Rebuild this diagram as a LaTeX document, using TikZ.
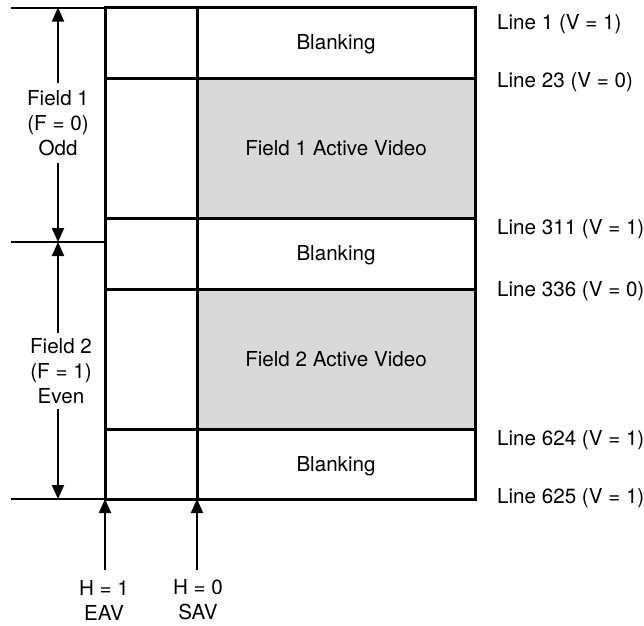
\documentclass[tikz,border=0pt]{standalone}
\usepackage{fontspec}
\setmainfont{TeX Gyre Heros}
\usetikzlibrary{arrows.meta}
\definecolor{actgray}{RGB}{217,217,217}
\begin{document}
\begin{tikzpicture}[x=1pt,y=-1pt,
  lbl/.style={font=\fontsize{20.6}{25}\selectfont, inner sep=0pt, align=center},
  boxline/.style={line width=3pt},
  tick/.style={line width=2pt},
  arr/.style={line width=2pt,-{Triangle[length=14pt,width=12pt]}},
  side/.style={lbl, inner xsep=0pt, inner ysep=7pt}]
\useasboundingbox (0,0) rectangle (644,625);
% gray active regions
\fill[actgray] (197,78) rectangle (475,218);
\fill[actgray] (197,289) rectangle (475,429);
% coordinates
\coordinate (tl) at (105,7.5);
\coordinate (tr) at (475,7.5);
\coordinate (bl) at (105,499);
\coordinate (br) at (475,499);
\coordinate (vt) at (197,7.5);
\coordinate (vb) at (197,499);
\coordinate (l23) at (105,78);   \coordinate (r23) at (475,78);
\coordinate (l311) at (105,218); \coordinate (r311) at (475,218);
\coordinate (l336) at (105,289); \coordinate (r336) at (475,289);
\coordinate (l624) at (105,429); \coordinate (r624) at (475,429);
\coordinate (t0) at (11,7.5);
\coordinate (m0) at (11,242);  \coordinate (m1) at (105,242);
\coordinate (b0) at (11,499);
\coordinate (f1top) at (58,7.5);
\coordinate (f1bot) at (58,242);
\coordinate (f2top) at (58,242);
\coordinate (f2bot) at (58,499);
% frame
\draw[boxline] (tl) rectangle (br);
\draw[boxline] (vt) -- (vb);
\draw[boxline] (l23) -- (r23);
\draw[boxline] (l311) -- (r311);
\draw[boxline] (l336) -- (r336);
\draw[boxline] (l624) -- (r624);
% left ticks
\draw[tick] (t0) -- (tl);
\draw[tick] (m0) -- (m1);
\draw[tick] (b0) -- (bl);
% region labels
\node[lbl, anchor=base] (bk1) at (336,49) {Blanking};
\node[lbl, anchor=base] (av1) at (336,155) {Field 1 Active Video};
\node[lbl, anchor=base] (bk2) at (336,260) {Blanking};
\node[lbl, anchor=base] (av2) at (336,366) {Field 2 Active Video};
\node[lbl, anchor=base] (bk3) at (336,471) {Blanking};
% right labels
\node[lbl, anchor=base west] (r1) at (497,29) {Line 1 (V = 1)};
\node[lbl, anchor=base west] (r2) at (497,87) {Line 23 (V = 0)};
\node[lbl, anchor=base west] (r3) at (497,234) {Line 311 (V = 1)};
\node[lbl, anchor=base west] (r4) at (497,296) {Line 336 (V = 0)};
\node[lbl, anchor=base west] (r5) at (497,445) {Line 624 (V = 1)};
\node[lbl, anchor=base west] (r6) at (497,503) {Line 625 (V = 1)};
% field labels
\node[side] (f1) at (58,123) {Field 1\\(F = 0)\\Odd};
\node[side, inner ysep=5pt] (f2) at (61,371) {Field 2\\(F = 1)\\Even};
\draw[arr] (f1.north -| f1top) -- (f1top);
\draw[arr] (f1.south -| f1bot) -- (f1bot);
\draw[arr] (f2.north -| f2top) -- (f2top);
\draw[arr] (f2.south -| f2bot) -- (f2bot);
% bottom labels
\node[lbl, inner ysep=10pt] (h1) at (104,600) {H = 1\\EAV};
\node[lbl, inner ysep=10pt] (h0) at (198,600) {H = 0\\SAV};
\draw[arr] (h1.north -| bl) -- (bl);
\draw[arr] (h0.north -| vb) -- (vb);
\end{tikzpicture}
\end{document}
